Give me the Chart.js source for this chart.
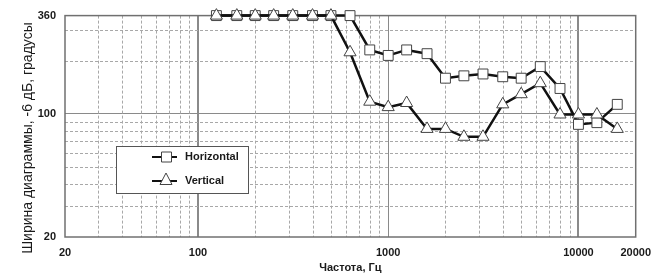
<!DOCTYPE html>
<html>
<head>
<meta charset="utf-8">
<script src="https://cdn.jsdelivr.net/npm/chart.js@4/dist/chart.umd.min.js"></script>
<style>
  html, body { margin: 0; padding: 0; background: #fff; }
  #wrap { position: relative; width: 660px; height: 277px; }
</style>
</head>
<body>
<div id="wrap"><canvas id="beamChart" width="660" height="277"></canvas></div>
<script>
// 1/3 octave centre frequencies, Hz
const freqs = [125, 160, 200, 250, 315, 400, 500, 630, 800, 1000, 1250, 1600,
               2000, 2500, 3150, 4000, 5000, 6300, 8000, 10000, 12500, 16000];
// beamwidth at -6 dB, degrees
const horizontal = [360, 360, 360, 360, 360, 360, 360, 360, 230, 214, 230, 219,
                    159, 164, 168, 162, 159, 185, 139, 87, 89, 113];
const vertical = [360, 360, 360, 360, 360, 360, 360, 223, 117, 109, 115, 82,
                  82, 74, 74, 113, 129, 149, 99, 99, 99, 82];

const xTicks = [20, 30, 40, 50, 60, 70, 80, 90, 100, 200, 300, 400, 500, 600, 700, 800, 900,
                1000, 2000, 3000, 4000, 5000, 6000, 7000, 8000, 9000, 10000, 20000];
const xLabels = [20, 100, 1000, 10000, 20000];
const xMajor = [100, 1000, 10000];
const yTicks = [20, 30, 40, 50, 60, 70, 80, 90, 100, 200, 300, 360];
const yLabels = [20, 100, 360];
const yMajor = [100];

const yTitle = 'Ширина диаграммы, -6 дБ, градусы';
const xTitle = 'Частота, Гц';

const FONT = "'Liberation Sans', Arial, sans-serif";
Chart.defaults.font.family = FONT;
Chart.defaults.color = '#1a1a1a';

// dashed minor grid + plot frame
const gridPlugin = {
  id: 'minorGrid',
  beforeDatasetsDraw(chart) {
    const { ctx, chartArea: a, scales: { x, y } } = chart;
    ctx.save();
    ctx.strokeStyle = '#a8a8a8';
    ctx.lineWidth = 1;
    ctx.setLineDash([3, 2]);
    xTicks.filter(v => !xMajor.includes(v) && v > 20 && v < 20000).forEach(v => {
      const px = Math.round(x.getPixelForValue(v)) + 0.5;
      ctx.beginPath(); ctx.moveTo(px, a.top); ctx.lineTo(px, a.bottom); ctx.stroke();
    });
    yTicks.filter(v => !yMajor.includes(v) && v > 20 && v < 360).forEach(v => {
      const py = Math.round(y.getPixelForValue(v)) + 0.5;
      ctx.beginPath(); ctx.moveTo(a.left, py); ctx.lineTo(a.right, py); ctx.stroke();
    });
    ctx.setLineDash([]);
    ctx.strokeStyle = '#707070';
    ctx.lineWidth = 1.5;
    ctx.strokeRect(a.left, a.top, a.right - a.left, a.bottom - a.top);
    ctx.restore();
  }
};

// y title sits a bit lower than the axis centre in the original
const yTitlePlugin = {
  id: 'yTitle',
  afterDraw(chart) {
    const ctx = chart.ctx;
    ctx.save();
    ctx.translate(28, 138);
    ctx.rotate(-Math.PI / 2);
    ctx.font = '14px ' + FONT;
    ctx.fillStyle = '#1a1a1a';
    ctx.textAlign = 'center';
    ctx.textBaseline = 'middle';
    ctx.fillText(yTitle, 0, 0);
    ctx.restore();
  }
};

// legend box inside the plot
const legendPlugin = {
  id: 'boxLegend',
  afterDraw(chart) {
    const ctx = chart.ctx;
    const bx = 116, by = 146, bw = 132, bh = 47;
    ctx.save();
    ctx.fillStyle = '#fff';
    ctx.fillRect(bx, by, bw, bh);
    ctx.strokeStyle = '#555';
    ctx.lineWidth = 1;
    ctx.strokeRect(bx + 0.5, by + 0.5, bw, bh);

    const rows = [
      { label: 'Horizontal', y: 157, shape: 'rect' },
      { label: 'Vertical', y: 181, shape: 'triangle' }
    ];
    rows.forEach(r => {
      ctx.strokeStyle = '#111';
      ctx.lineWidth = 2;
      ctx.beginPath(); ctx.moveTo(152, r.y); ctx.lineTo(177, r.y); ctx.stroke();
      ctx.fillStyle = '#fff';
      ctx.strokeStyle = '#444';
      ctx.lineWidth = 1;
      ctx.beginPath();
      if (r.shape === 'rect') {
        ctx.rect(161.5, r.y - 5, 10, 10);
      } else {
        ctx.moveTo(166, r.y - 8);
        ctx.lineTo(172, r.y + 3.5);
        ctx.lineTo(160, r.y + 3.5);
        ctx.closePath();
      }
      ctx.fill(); ctx.stroke();
      ctx.fillStyle = '#1a1a1a';
      ctx.font = 'bold 11px ' + FONT;
      ctx.textBaseline = 'middle';
      ctx.fillText(r.label, 185, r.y);
    });
    ctx.restore();
  }
};

const toPoints = arr => arr.map((v, i) => ({ x: freqs[i], y: v }));

const markerStyle = {
  borderColor: '#111',
  borderWidth: 2.5,
  pointBackgroundColor: '#fff',
  pointBorderColor: '#444',
  pointBorderWidth: 1,
  pointRadius: 7,
  pointHoverRadius: 7,
  tension: 0,
  fill: false,
  clip: false
};

new Chart(document.getElementById('beamChart'), {
  type: 'line',
  data: {
    datasets: [
      Object.assign({ label: 'Vertical', data: toPoints(vertical), pointStyle: 'triangle', order: 0 }, markerStyle),
      Object.assign({ label: 'Horizontal', data: toPoints(horizontal), pointStyle: 'rect', order: 1 }, markerStyle)
    ]
  },
  options: {
    responsive: false,
    animation: false,
    layout: { padding: { left: 0, right: 24, top: 11, bottom: 0 } },
    plugins: { legend: { display: false }, tooltip: { enabled: false } },
    scales: {
      x: {
        type: 'logarithmic',
        min: 20,
        max: 20000,
        afterBuildTicks: s => { s.ticks = xTicks.map(v => ({ value: v })); },
        afterFit: s => { s.height = 40; },
        ticks: {
          autoSkip: false,
          maxRotation: 0,
          padding: 9,
          font: { size: 11, weight: 'bold' },
          callback: v => xLabels.includes(v) ? String(v) : ''
        },
        grid: {
          drawTicks: false,
          color: c => xMajor.includes(c.tick && c.tick.value) ? '#8a8a8a' : 'rgba(0,0,0,0)',
          lineWidth: c => (c.tick && (c.tick.value === 100 || c.tick.value === 10000)) ? 2 : 1
        },
        border: { display: false },
        title: {
          display: true,
          text: xTitle,
          font: { size: 11, weight: 'bold' },
          padding: { top: 0, bottom: 2 }
        }
      },
      y: {
        type: 'logarithmic',
        min: 20,
        max: 360,
        afterBuildTicks: s => { s.ticks = yTicks.map(v => ({ value: v })); },
        afterFit: s => { s.width = 65; },
        ticks: {
          autoSkip: false,
          padding: 9,
          font: { size: 11, weight: 'bold' },
          callback: v => yLabels.includes(v) ? String(v) : ''
        },
        grid: {
          drawTicks: false,
          color: c => yMajor.includes(c.tick && c.tick.value) ? '#8a8a8a' : 'rgba(0,0,0,0)',
          lineWidth: 1
        },
        border: { display: false }
      }
    }
  },
  plugins: [gridPlugin, legendPlugin, yTitlePlugin]
});
</script>
</body>
</html>
